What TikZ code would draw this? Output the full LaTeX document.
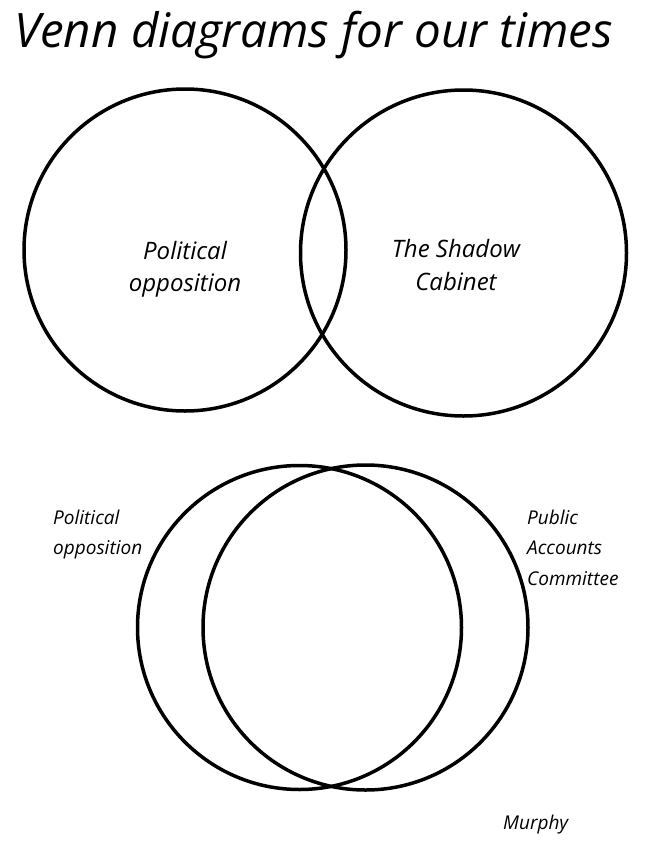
\documentclass[tikz,border=0pt]{standalone}
\usepackage{fontspec}
\setmainfont{Open Sans}
\begin{document}
\begin{tikzpicture}[x=1pt,y=-1pt,
  venn/.style={draw=black,line width=3.5pt},
  title/.style={font=\itshape\fontsize{47.5}{52}\selectfont,anchor=base west,inner sep=0pt},
  biglab/.style={font=\itshape\fontsize{24}{28}\selectfont,anchor=base,inner sep=0pt},
  smalllab/.style={font=\itshape\fontsize{19}{23}\selectfont,anchor=base west,inner sep=0pt}]
\useasboundingbox[fill=white] (0,0) rectangle (647,849);
\node[title] (t) at (14,47) {Venn diagrams for our times};
% top pair
\draw[venn] (185,250) circle[radius=161];
\draw[venn] (463.5,253) circle[radius=163];
\node[biglab] (p1) at (185,259) {Political};
\node[biglab] (p2) at (185,291) {opposition};
\node[biglab] (s1) at (456,257) {The Shadow};
\node[biglab] (s2) at (456,290) {Cabinet};
% bottom pair
\draw[venn] (299.5,627.5) circle[radius=162];
\draw[venn] (365.5,627.5) circle[radius=162.5];
\node[smalllab] (b1) at (53,524) {Political};
\node[smalllab] (b2) at (53,554) {opposition};
\node[smalllab] (c1) at (527,524) {Public};
\node[smalllab] (c2) at (527,554) {Accounts};
\node[smalllab] (c3) at (527,585) {Committee};
\node[smalllab] (m) at (503,829) {Murphy};
\end{tikzpicture}
\end{document}
